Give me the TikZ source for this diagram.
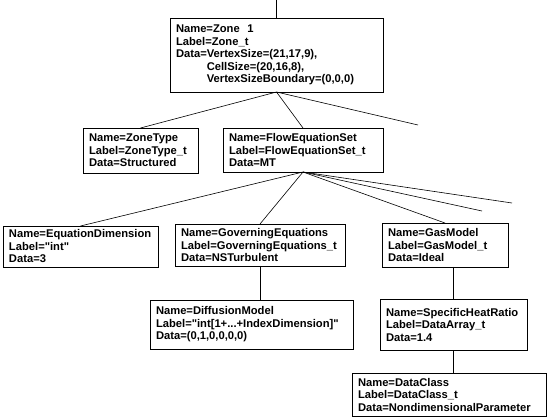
\documentclass[tikz,border=0pt]{standalone}
\usepackage{fontspec}
\setmainfont{Liberation Sans}[Ligatures=TeXOff]
\newlength{\du}
\setlength{\du}{1pt}
\tikzset{
  cgnsnode/.style={draw, fill=white, anchor=north west, align=left, outer sep=0pt,
    inner xsep=6\du, inner ysep=2\du, line width=0.7\du,
    font=\bfseries\fontsize{11.2}{12.5}\selectfont},
  treeline/.style={line width=0.6\du}
}

\begin{document}
\begin{tikzpicture}
\pgftransformxscale{1.000000}
\pgftransformyscale{-1.000000}
\useasboundingbox (0\du,0\du) rectangle (547\du,417\du);
\definecolor{dialinecolor}{rgb}{0.000000, 0.000000, 0.000000}
\pgfsetstrokecolor{dialinecolor}
% zone level
\node[cgnsnode, text width=201\du, minimum height=74\du] (zone) at (170\du,18\du)
  {Name=Zone\ \ 1\\Label=Zone\_t\\Data=VertexSize=(21,17,9),\\\phantom{Data=}CellSize=(20,16,8),\\\phantom{Data=}VertexSizeBoundary=(0,0,0)};
\node[cgnsnode, text width=103\du, minimum height=45\du] (zonetype) at (83\du,128\du)
  {Name=ZoneType\\Label=ZoneType\_t\\Data=Structured};
\node[cgnsnode, text width=148\du, minimum height=44\du] (floweq) at (223\du,128\du)
  {Name=FlowEquationSet\\Label=FlowEquationSet\_t\\Data=MT};
% flow equation set children
\node[cgnsnode, text width=143\du, minimum height=41\du] (eqdim) at (3\du,226\du)
  {Name=EquationDimension\\Label="int"\\Data=3};
\node[cgnsnode, text width=158\du, minimum height=42\du] (goveq) at (175\du,224\du)
  {Name=GoverningEquations\\Label=GoverningEquations\_t\\Data=NSTurbulent};
\node[cgnsnode, text width=114\du, minimum height=44\du] (gasmodel) at (382\du,223\du)
  {Name=GasModel\\Label=GasModel\_t\\Data=Ideal};
\node[cgnsnode, text width=191\du, minimum height=49\du] (diffmodel) at (150\du,300\du)
  {Name=DiffusionModel\\Label="int[1+...+IndexDimension]"\\Data=(0,1,0,0,0,0)};
\node[cgnsnode, text width=135\du, minimum height=51\du] (heatratio) at (380\du,299\du)
  {Name=SpecificHeatRatio\\Label=DataArray\_t\\Data=1.4};
\node[cgnsnode, text width=182\du, minimum height=43\du] (dataclass) at (352\du,373\du)
  {Name=DataClass\\Label=DataClass\_t\\Data=NondimensionalParameter};
% open ends
\coordinate (zonetop) at (zone.north |- 0\du,0\du);
\coordinate (zonefree) at (418\du,125\du);
\coordinate (flowfreeA) at (482\du,211\du);
\coordinate (flowfreeB) at (512\du,203\du);
% connectors
\draw[treeline] (zonetop)--(zone.north);
\draw[treeline] (zone.south)--(zonetype.north);
\draw[treeline] (zone.south)--(floweq.north);
\draw[treeline] (zone.south)--(zonefree);
\draw[treeline] (floweq.south)--(eqdim.north);
\draw[treeline] (floweq.south)--(goveq.north);
\draw[treeline] (floweq.south)--(gasmodel.north);
\draw[treeline] (floweq.south)--(flowfreeA);
\draw[treeline] (floweq.south)--(flowfreeB);
\draw[treeline] (goveq.south)--(goveq.south |- diffmodel.north);
\draw[treeline] (heatratio.north |- gasmodel.south)--(heatratio.north);
\draw[treeline] (heatratio.south)--(heatratio.south |- dataclass.north);
\end{tikzpicture}
\end{document}
